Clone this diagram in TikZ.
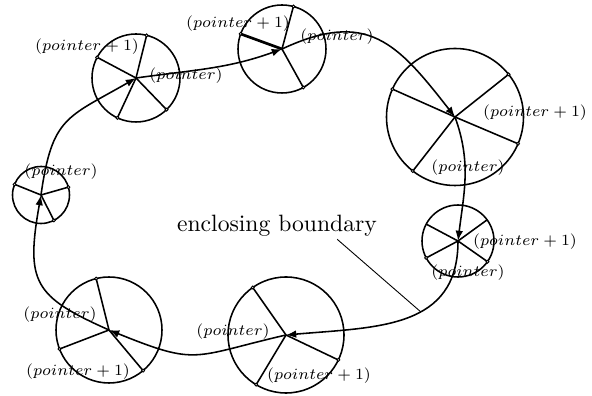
\documentclass[tikz,border=0pt]{standalone}
\usetikzlibrary{arrows.meta}

\begin{document}
\begin{tikzpicture}[
  x=0.4484pt, y=0.4484pt,
  ring/.style={line width=0.7pt},
  spoke/.style={line width=0.7pt},
  boldspoke/.style={line width=1.2pt},
  tip/.style={line width=0.4pt, fill=white},
  bound/.style={line width=0.7pt, -{Latex[length=4.6pt, width=3.4pt]}},
  lbl/.style={font=\fontsize{7.4}{9}\selectfont, inner sep=0pt},
  leader/.style={line width=0.4pt},
]

\useasboundingbox (0,0) rectangle (592,396);

% centres of the records
\coordinate (A) at (136,318);
\coordinate (B) at (282,347);
\coordinate (C) at (455,279);
\coordinate (D) at (41,201);
\coordinate (E) at (458,155);
\coordinate (F) at (109,66);
\coordinate (G) at (286,61);

\foreach \c/\r in {A/44, B/44, C/68.5, D/28.5, E/36, F/53, G/58}
  \draw[ring] (\c) circle[radius=\r];

% spokes ending in a small ring
\foreach \c/\r/\a in {A/44/76, A/44/152, A/44/245, A/44/314,
                      B/44/75, B/44/299,
                      C/68.5/38.5, C/68.5/156, C/68.5/232, C/68.5/337,
                      D/28.5/16, D/28.5/158, D/28.5/297,
                      E/36/208, E/36/325,
                      F/53/104, F/53/201, F/53/310,
                      G/58/125, G/58/239, G/58/334.5} {
  \draw[spoke] (\c) -- ++(\a:\r);
  \filldraw[tip] (\c) ++(\a:\r) circle[radius=1.5];
}
\draw[boldspoke] (B) -- ++(160:44);
\filldraw[tip] (B) ++(160:44) circle[radius=1.5];
\draw[spoke] (E) -- ++(152:36);
\draw[spoke] (E) -- ++(36:36);

% the enclosing boundary
\draw[bound] (D) to[out=82, in=210, looseness=1.35] (A);
\draw[bound] (A) to[out=8, in=200] (B);
\draw[bound] (B) to[out=25, in=128, looseness=1.3] (C);
\draw[bound] (C) to[out=-70, in=83] (E);
\draw[bound] (E) to[out=-90, in=5, out looseness=1.15, in looseness=1.2]
  coordinate[pos=0.42] (tick) (G);
\draw[bound] (G) to[out=193, in=-22, looseness=1.4] (F);
\draw[bound] (F) to[out=156, in=260, out looseness=1.4, in looseness=1.5] (D);

% labels
\node[lbl] (pA1) at (87,349)  {$(pointer+1)$};
\node[lbl] (pA)  at (186,320) {$(pointer)$};
\node[lbl] (pD)  at (61,224)  {$(pointer)$};
\node[lbl] (pB1) at (238,372) {$(pointer+1)$};
\node[lbl] (pB)  at (337,359) {$(pointer)$};
\node[lbl] (pC1) at (535,283) {$(pointer+1)$};
\node[lbl] (pC)  at (468,228) {$(pointer)$};
\node[lbl] (pE1) at (525,154) {$(pointer+1)$};
\node[lbl] (pE)  at (468,123) {$(pointer)$};
\node[lbl] (pF)  at (60,81)   {$(pointer)$};
\node[lbl] (pF1) at (78,24)   {$(pointer+1)$};
\node[lbl] (pG)  at (233,64)  {$(pointer)$};
\node[lbl] (pG1) at (319,20)  {$(pointer+1)$};

\node[font=\fontsize{10.6}{13}\selectfont, inner sep=1pt] (bnd) at (277,170)
  {enclosing boundary};
\draw[leader] ([xshift=27pt]bnd.south) -- (tick);

\end{tikzpicture}
\end{document}
